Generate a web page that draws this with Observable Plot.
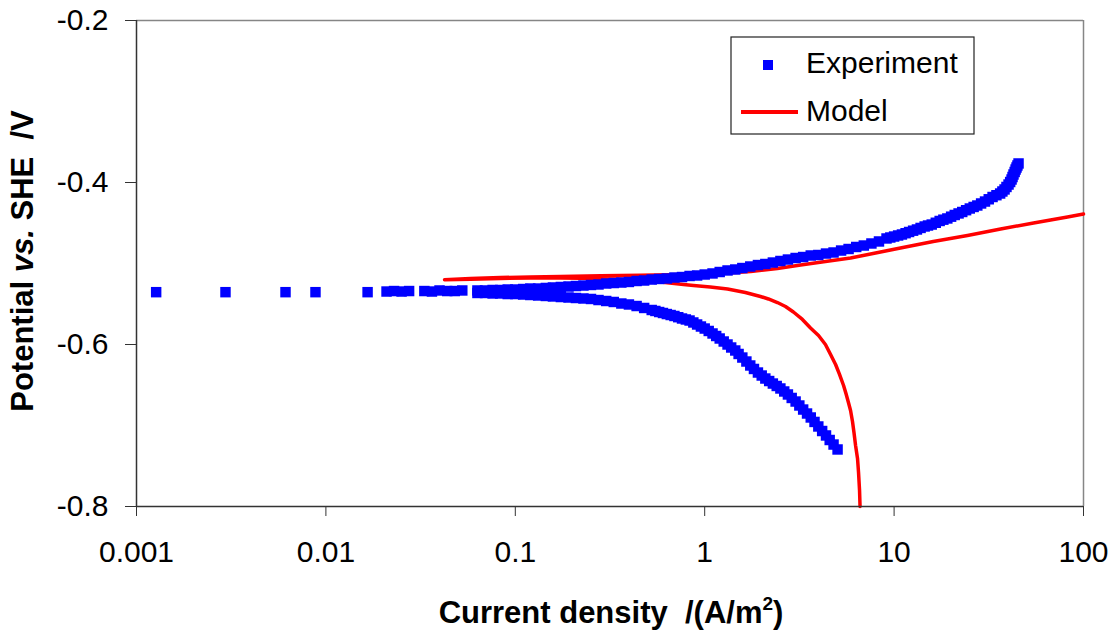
<!DOCTYPE html>
<html><head><meta charset="utf-8">
<script src="https://cdn.jsdelivr.net/npm/d3@7"></script>
<script src="https://cdn.jsdelivr.net/npm/@observablehq/plot@0.6"></script>
<style>
html,body{margin:0;padding:0;background:#fff;}
#chart{width:1115px;height:635px;}
</style></head><body><div id="chart"></div>
<script>
// ---- tick definitions ----
const xTicks = [0.001, 0.01, 0.1, 1, 10, 100];
const xTickLabels = ["0.001", "0.01", "0.1", "1", "10", "100"];
const yTicks = [-0.8, -0.6, -0.4, -0.2];
const yTickLabels = ["-0.8", "-0.6", "-0.4", "-0.2"];

// ---- Experiment: sparse points near corrosion potential ----
const expSparseI = [0.00127, 0.00295, 0.00612, 0.00881, 0.0166];
const expSparseE = [-0.5354, -0.5354, -0.5354, -0.5354, -0.5354];

// ---- Experiment: dense points near corrosion potential ----
const expNearI = [0.0209, 0.0229, 0.0251, 0.0275, 0.0331, 0.0363, 0.0398, 0.0437, 0.0479, 0.0525];
const expNearE = [-0.5346, -0.5340, -0.5346, -0.5340, -0.5340, -0.5346, -0.5333, -0.5340, -0.5340, -0.5333];

// ---- Experiment: anodic branch ----
const expAnodicI = [0.0631, 0.0692, 0.0759, 0.0832, 0.0912, 0.100, 0.110, 0.120, 0.132, 0.145, 0.158, 0.174, 0.191, 0.209, 0.229, 0.251, 0.275, 0.302, 0.331, 0.363, 0.398, 0.437, 0.479, 0.525, 0.575, 0.631, 0.692, 0.759, 0.832, 0.912, 1.00, 1.10, 1.20, 1.32, 1.45, 1.58, 1.74, 1.91, 2.09, 2.29, 2.51, 2.75, 3.02, 3.31, 3.63, 3.98, 4.37, 4.79, 5.25, 5.75, 6.31, 6.92, 7.59, 8.32, 9.12, 9.55, 10.0, 10.5, 11.0, 11.5, 12.0, 12.6, 13.2, 13.8, 14.5, 15.1, 15.8, 16.6, 17.4, 18.2, 19.1, 20.0, 20.9, 21.9, 22.9, 24.0, 25.1, 26.3, 27.5, 28.8, 30.2, 31.6, 33.1, 34.7, 36.3, 37.3, 38.3, 39.2, 40.2, 41.0, 41.7, 42.2, 42.7, 43.3, 43.8, 44.3, 44.8, 45.4];
const expAnodicE = [-0.5333, -0.5333, -0.5327, -0.5327, -0.5321, -0.5321, -0.5315, -0.5309, -0.5309, -0.5302, -0.5296, -0.5290, -0.5284, -0.5278, -0.5272, -0.5265, -0.5259, -0.5247, -0.5241, -0.5235, -0.5228, -0.5216, -0.5210, -0.5198, -0.5191, -0.5185, -0.5173, -0.5167, -0.5154, -0.5148, -0.5136, -0.5123, -0.5105, -0.5086, -0.5074, -0.5056, -0.5037, -0.5019, -0.5006, -0.4988, -0.4969, -0.4951, -0.4932, -0.4920, -0.4901, -0.4895, -0.4877, -0.4864, -0.4840, -0.4821, -0.4796, -0.4778, -0.4753, -0.4728, -0.4691, -0.4679, -0.4667, -0.4654, -0.4642, -0.4626, -0.4611, -0.4595, -0.4580, -0.4561, -0.4543, -0.4531, -0.4519, -0.4497, -0.4475, -0.4459, -0.4444, -0.4422, -0.4401, -0.4382, -0.4364, -0.4342, -0.4321, -0.4302, -0.4284, -0.4259, -0.4235, -0.4207, -0.4179, -0.4157, -0.4136, -0.4111, -0.4086, -0.4055, -0.4025, -0.3994, -0.3963, -0.3932, -0.3901, -0.3870, -0.3840, -0.3815, -0.3790, -0.3765];

// ---- Experiment: cathodic branch ----
const expCathodicI = [0.0631, 0.0692, 0.0759, 0.0832, 0.0912, 0.100, 0.110, 0.120, 0.132, 0.145, 0.158, 0.174, 0.191, 0.209, 0.229, 0.251, 0.275, 0.302, 0.331, 0.363, 0.398, 0.437, 0.479, 0.525, 0.549, 0.575, 0.602, 0.631, 0.661, 0.692, 0.725, 0.759, 0.795, 0.832, 0.871, 0.912, 0.955, 1.00, 1.05, 1.10, 1.15, 1.20, 1.26, 1.32, 1.38, 1.45, 1.51, 1.58, 1.66, 1.74, 1.82, 1.91, 2.00, 2.09, 2.19, 2.29, 2.40, 2.51, 2.63, 2.75, 2.88, 3.02, 3.16, 3.31, 3.47, 3.63, 3.80, 3.98, 4.17, 4.37, 4.57, 4.79, 5.03];
const expCathodicE = [-0.5364, -0.5364, -0.5370, -0.5370, -0.5377, -0.5377, -0.5383, -0.5389, -0.5395, -0.5401, -0.5407, -0.5414, -0.5420, -0.5426, -0.5432, -0.5438, -0.5451, -0.5463, -0.5475, -0.5494, -0.5506, -0.5525, -0.5549, -0.5574, -0.5586, -0.5599, -0.5611, -0.5624, -0.5636, -0.5648, -0.5663, -0.5679, -0.5691, -0.5704, -0.5728, -0.5753, -0.5778, -0.5803, -0.5833, -0.5864, -0.5895, -0.5926, -0.5963, -0.6000, -0.6037, -0.6074, -0.6117, -0.6161, -0.6210, -0.6259, -0.6302, -0.6346, -0.6383, -0.6420, -0.6451, -0.6482, -0.6512, -0.6543, -0.6580, -0.6617, -0.6660, -0.6704, -0.6753, -0.6803, -0.6852, -0.6901, -0.6956, -0.7012, -0.7068, -0.7123, -0.7179, -0.7235, -0.7296];

// ---- Model (ordered by potential: cathodic part then anodic part) ----
const modelI = [6.61, 6.57, 6.49, 6.41, 6.26, 6.14, 6.03, 5.89, 5.74, 5.57, 5.41, 5.15, 4.91, 4.62, 4.34, 3.99, 3.62, 3.28, 2.94, 2.67, 2.42, 2.17, 1.97, 1.64, 1.32, 1.07, 0.873, 0.773, 0.584, 0.458, 0.282, 0.173, 0.120, 0.0835, 0.0580, 0.0423,
  0.0580, 0.0835, 0.120, 0.173, 0.282, 0.458, 0.773, 1.21, 1.75, 2.42, 3.21, 4.34, 5.89, 7.98, 10.8, 16.1, 24.4, 36.5, 54.5, 82.3, 100];
const modelE = [-0.800, -0.7802, -0.7580, -0.7407, -0.7247, -0.7086, -0.6951, -0.6815, -0.6716, -0.6605, -0.6506, -0.6370, -0.6247, -0.6124, -0.6000, -0.5889, -0.5796, -0.5691, -0.5599, -0.5531, -0.5482, -0.5438, -0.5407, -0.5358, -0.5315, -0.5290, -0.5272, -0.5259, -0.5228, -0.5207, -0.5185, -0.5179, -0.5179, -0.5184, -0.5193, -0.5200,
  -0.5185, -0.5173, -0.5167, -0.5161, -0.5152, -0.5144, -0.5136, -0.5123, -0.5099, -0.5062, -0.5019, -0.4975, -0.4932, -0.4870, -0.4809, -0.4728, -0.4654, -0.4574, -0.4500, -0.4426, -0.4389];

// ---- tables built from the arrays ----
const zip = (I, E) => I.map((v, k) => ({i: v, e: E[k]}));
const experiment = [
  ...zip(expSparseI, expSparseE),
  ...zip(expNearI, expNearE),
  ...zip(expAnodicI, expAnodicE),
  ...zip(expCathodicI, expCathodicE)
];
const model = zip(modelI, modelE);

const FONT = "'Liberation Sans', Arial, Helvetica, sans-serif";

const chart = Plot.plot({
  width: 1115,
  height: 635,
  marginLeft: 136,
  marginRight: 32,
  marginTop: 20,
  marginBottom: 129,
  style: {fontFamily: FONT, fontSize: "30px", color: "#000", background: "#fff", overflow: "visible"},
  x: {type: "log", domain: [0.001, 100]},
  y: {domain: [-0.8, -0.2]},
  marks: [
    Plot.ruleY([-0.2], {stroke: "#868686", strokeWidth: 1.5}),
    Plot.ruleX([100], {stroke: "#868686", strokeWidth: 1.5}),
    Plot.line(model, {x: "i", y: "e", stroke: "#ff0000", strokeWidth: 3.5, strokeLinejoin: "round"}),
    Plot.dot(experiment, {x: "i", y: "e", symbol: "square", r: 5.9, fill: "#0000ff"}),
    Plot.ruleY([-0.8], {stroke: "#333", strokeWidth: 1.5}),
    Plot.ruleX([0.001], {stroke: "#333", strokeWidth: 1.5}),
    Plot.axisX({ticks: xTicks, tickFormat: d => xTickLabels[xTicks.indexOf(d)], tickSize: 10, tickPadding: 24, stroke: "#333", fontSize: 30, label: null}),
    Plot.axisY({ticks: yTicks, tickFormat: d => yTickLabels[yTicks.indexOf(d)], tickSize: 11, tickPadding: 17, stroke: "#333", fontSize: 30, label: null})
  ]
});

document.getElementById("chart").appendChild(chart);

// ---- axis titles and legend (text) ----
const svg = d3.select(chart);

const xt = svg.append("text")
  .attr("x", 611).attr("y", 623)
  .attr("text-anchor", "middle")
  .style("font-family", FONT).style("font-weight", "bold").style("font-size", "31px")
  .style("white-space", "pre").attr("fill", "#000");
xt.append("tspan").text("Current density  /(A/m");
xt.append("tspan").attr("dy", -13).style("font-size", "19px").text("2");
xt.append("tspan").attr("dy", 13).text(")");

const yt = svg.append("text")
  .attr("transform", "translate(33,261) rotate(-90)")
  .attr("text-anchor", "middle")
  .style("font-family", FONT).style("font-weight", "bold").style("font-size", "31px")
  .style("white-space", "pre").attr("fill", "#000");
yt.append("tspan").text("Potential ");
yt.append("tspan").style("font-style", "italic").text("vs.");
yt.append("tspan").text(" SHE  /V");

const lg = svg.append("g").attr("text-anchor", "start");
lg.append("rect").attr("x", 731).attr("y", 37).attr("width", 243).attr("height", 97)
  .attr("fill", "#fff").attr("stroke", "#222").attr("stroke-width", 1.2);
lg.append("rect").attr("x", 763).attr("y", 60).attr("width", 10).attr("height", 10).attr("fill", "#0000ff");
lg.append("line").attr("x1", 741).attr("x2", 798).attr("y1", 112).attr("y2", 112)
  .attr("stroke", "#ff0000").attr("stroke-width", 4);
lg.append("text").attr("x", 806).attr("y", 73).attr("text-anchor", "start")
  .style("font-family", FONT).style("font-size", "30px").attr("fill", "#000").text("Experiment");
lg.append("text").attr("x", 806).attr("y", 121).attr("text-anchor", "start")
  .style("font-family", FONT).style("font-size", "30px").attr("fill", "#000").text("Model");
</script>
</body></html>
